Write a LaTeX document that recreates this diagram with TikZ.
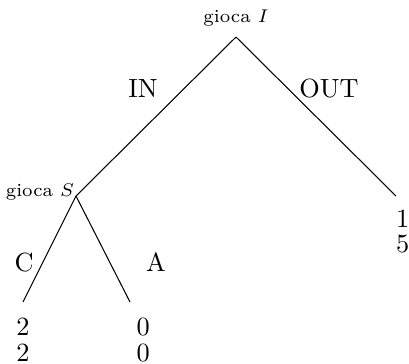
\documentclass[tikz,border=0pt]{standalone}
\usepackage{amsmath,amssymb}
\usetikzlibrary{positioning}

\begin{document}
\begin{tikzpicture}[x=0.38pt,y=-0.38pt,
  payoff/.style={below=6pt,inner sep=0pt},
  player/.style={font=\scriptsize}]
\useasboundingbox (0,0) rectangle (409,363);
\coordinate (rootI) at (236,37);
\coordinate (nodeS) at (76,196);
\coordinate (leafOut) at (396,196);
\coordinate (leafC) at (23,302);
\coordinate (leafA) at (130,302);
\node[player,above=0.5pt] (labI) at (rootI) {gioca $I$};
\node[player,anchor=base east,inner sep=0pt,xshift=-0.5pt] (labS) at (nodeS) {gioca $S$};
\draw (rootI)--(nodeS) (rootI)--(leafOut);
\draw (nodeS)--(leafC) (nodeS)--(leafA);
\node (labIn) at (143,89) {IN};
\node (labOut) at (329,89) {OUT};
\node (labC) at (24,262) {C};
\node (labA) at (156,262) {A};
\node[payoff] (payC) at (leafC) {\shortstack{2\\2}};
\node[payoff,xshift=5pt] (payA) at (leafA) {\shortstack{0\\0}};
\node[payoff,xshift=2.5pt,below=5pt] (payOut) at (leafOut) {\shortstack{1\\5}};
\end{tikzpicture}
\end{document}
